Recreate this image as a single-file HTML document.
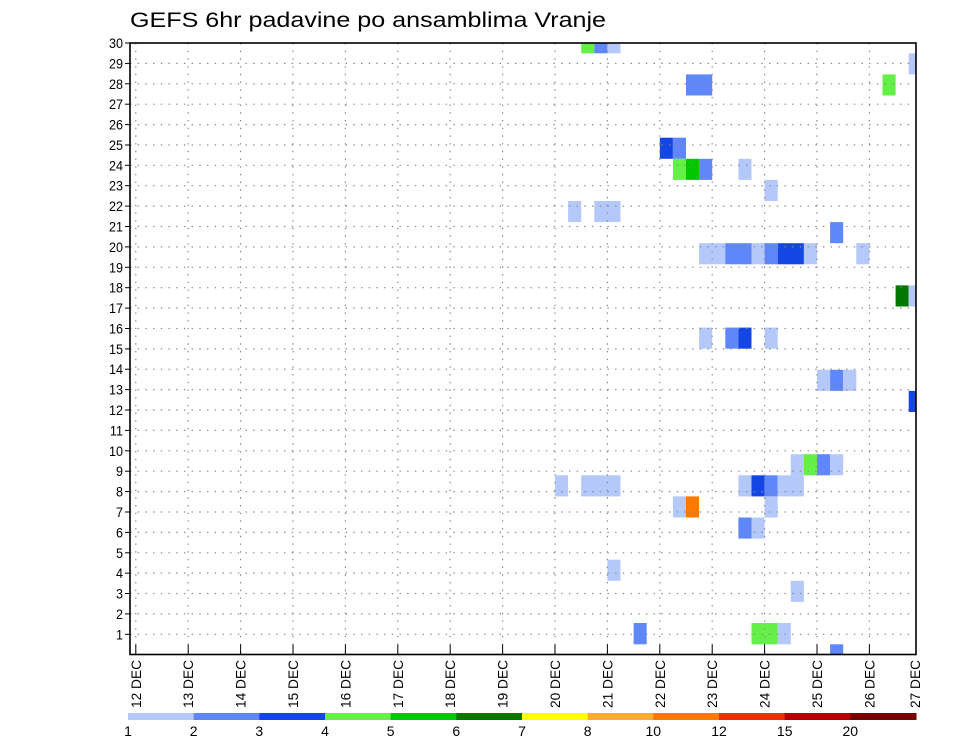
<!DOCTYPE html>
<html><head><meta charset="utf-8"><style>
html,body{margin:0;padding:0;background:#fff;}
svg{display:block;font-family:"Liberation Sans",sans-serif;}
</style></head><body>
<svg id="s" width="960" height="742" viewBox="0 0 960 742" xmlns="http://www.w3.org/2000/svg">
<text x="130" y="27" font-size="21" textLength="476" lengthAdjust="spacingAndGlyphs" fill="#000">GEFS 6hr padavine po ansamblima Vranje</text>
</svg>
<script>
const s=document.getElementById('s');
let h='';
const X0=130,X1=916,Y0=43,Y1=654.5;
const dx=52.4, d12=135.8, q=13.1;
const C={l:'#b4c8fa',b:'#5f87fa',d:'#1446e6',g:'#64f046',G:'#00c800',D:'#007800',o:'#ff7800'};
const cells=[
[0,34,1,'g'],[0,35,1,'b'],[0,36,1,'l'],
[1,59,1,'l'],
[2,42,2,'b'],[2,57,1,'g'],
[5,40,1,'d'],[5,41,1,'b'],
[6,41,1,'g'],[6,42,1,'G'],[6,43,1,'b'],[6,46,1,'l'],
[7,48,1,'l'],
[8,33,1,'l'],[8,35,2,'l'],
[9,53,1,'b'],
[10,43,2,'l'],[10,45,2,'b'],[10,47,1,'l'],[10,48,1,'b'],[10,49,2,'d'],[10,51,1,'l'],[10,55,1,'l'],
[12,58,1,'D'],[12,59,1,'l'],
[14,43,1,'l'],[14,45,1,'b'],[14,46,1,'d'],[14,48,1,'l'],
[16,52,1,'l'],[16,53,1,'b'],[16,54,1,'l'],
[17,59,1,'d'],
[20,50,1,'l'],[20,51,1,'g'],[20,52,1,'b'],[20,53,1,'l'],
[21,32,1,'l'],[21,34,3,'l'],[21,46,1,'l'],[21,47,1,'d'],[21,48,1,'b'],[21,49,2,'l'],
[22,41,1,'l'],[22,42,1,'o'],[22,48,1,'l'],
[23,46,1,'b'],[23,47,1,'l'],
[25,36,1,'l'],
[26,50,1,'l'],
[28,38,1,'b'],[28,47,2,'g'],[28,49,1,'l'],
[29,53,1,'b']
];
function rowB(t){ if(t<=0) return Y0; if(t>=30) return Y1; if(t===29) return 644.3; return 53.3+21.1*(t-1);}
for(const [t,qs,n,c] of cells){
  const y0=rowB(t), y1=(t===29)?Y1:rowB(t+1);
  let x0=d12+qs*q, x1=x0+n*q; if(x1>X1) x1=X1;
  h+=`<rect x="${x0.toFixed(1)}" y="${y0.toFixed(1)}" width="${(x1-x0).toFixed(1)}" height="${(y1-y0).toFixed(1)}" fill="${C[c]}"/>`;
}
const ry=r=>654.7-20.39*r;
for(let r=1;r<=29;r++){const y=ry(r).toFixed(1);
  h+=`<line x1="${X0}" y1="${y}" x2="${X1}" y2="${y}" stroke="#888" stroke-width="1.2" stroke-dasharray="1.4 6.3"/>`;}
for(let d=0;d<=14;d++){const x=(d12+d*dx).toFixed(1);
  h+=`<line x1="${x}" y1="${Y0}" x2="${x}" y2="${Y1}" stroke="#888" stroke-width="1.2" stroke-dasharray="1.4 6.3"/>`;}
h+=`<rect x="${X0}" y="${Y0}" width="${X1-X0}" height="${Y1-Y0}" fill="none" stroke="#000" stroke-width="1.6"/>`;
for(let r=1;r<=30;r++){const y=(r===30?43:ry(r));
  h+=`<line x1="125" y1="${y.toFixed(1)}" x2="${X0}" y2="${y.toFixed(1)}" stroke="#000" stroke-width="1"/>`;
  h+=`<text x="123" y="${(y+5).toFixed(1)}" font-size="14" text-anchor="end" fill="#000" transform="translate(${(123*0.1).toFixed(1)},0) scale(0.9,1)" style="transform-origin:0 0">${r}</text>`;}
for(let d=0;d<=15;d++){let x=d12+d*dx; if(d===15) x=915;
  if(d<15) h+=`<line x1="${x.toFixed(1)}" y1="${Y1-10}" x2="${x.toFixed(1)}" y2="${Y1}" stroke="#000" stroke-width="1"/>`;
  h+=`<text transform="translate(${(x+5).toFixed(1)},660) rotate(-90)" font-size="14" text-anchor="end" textLength="48" lengthAdjust="spacingAndGlyphs" fill="#000">${12+d} DEC</text>`;}
const cb=['#b4c8fa','#5f87fa','#1446e6','#64f046','#00c800','#007800','#ffff00','#ffaa32','#ff7800','#e63200','#b40000','#780000'];
const labs=['1','2','3','4','5','6','7','8','10','12','15','20'];
const w=788/12;
for(let i=0;i<12;i++){
  h+=`<rect x="${(128+i*w).toFixed(1)}" y="713" width="${(w+0.5).toFixed(1)}" height="7" fill="${cb[i]}"/>`;
  h+=`<text x="${(128+i*w).toFixed(1)}" y="736" font-size="14" text-anchor="middle" fill="#000">${labs[i]}</text>`;
}
s.insertAdjacentHTML('beforeend',h);
</script>
</body></html>
